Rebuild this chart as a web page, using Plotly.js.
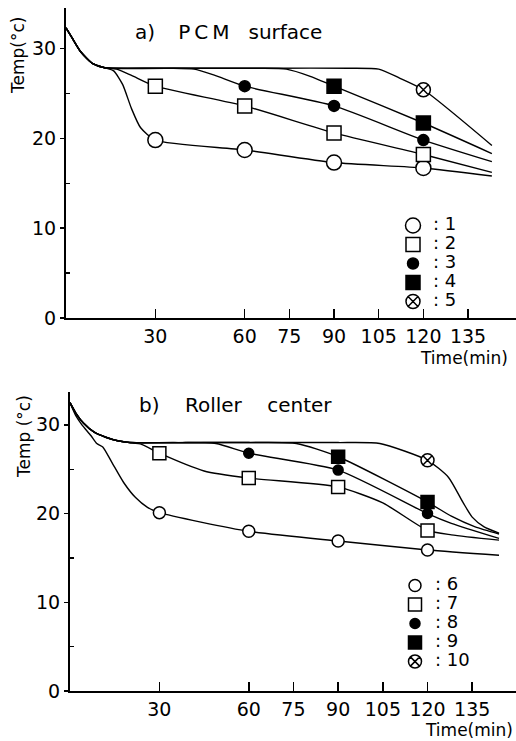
<!DOCTYPE html>
<html>
<head>
<meta charset="utf-8">
<script src="https://cdn.plot.ly/plotly-3.0.1.min.js"></script>
<style>
html,body{margin:0;padding:0;background:#fff;}
#chart{width:516px;height:741px;}
</style>
</head>
<body>
<div id="chart"></div>
<script>
// ---------- a) PCM surface : smooth curves ----------
const a1_t = [0, 2, 5, 9, 13, 16, 19, 22, 25, 30, 60, 90, 120, 143];
const a1_T = [32.3, 31.2, 29.6, 28.3, 27.85, 27.5, 26.0, 23.3, 21.2, 19.8, 18.7, 17.3, 16.7, 15.8];
const a2_t = [0, 2, 5, 9, 13, 17, 22, 30, 60, 90, 120, 143];
const a2_T = [32.3, 31.2, 29.6, 28.3, 27.85, 27.7, 27.0, 25.8, 23.6, 20.6, 18.2, 16.2];
const a3_t = [0, 2, 5, 9, 13, 25, 35, 43, 50, 60, 90, 120, 143];
const a3_T = [32.3, 31.2, 29.6, 28.3, 27.85, 27.8, 27.8, 27.7, 27.0, 25.8, 23.6, 19.8, 17.4];
const a4_t = [0, 2, 5, 9, 13, 30, 50, 65, 74, 82, 90, 120, 143];
const a4_T = [32.3, 31.2, 29.6, 28.3, 27.85, 27.8, 27.8, 27.8, 27.7, 26.9, 25.8, 21.7, 18.3];
const a5_t = [0, 2, 5, 9, 13, 40, 70, 95, 105, 112, 120, 143];
const a5_T = [32.3, 31.2, 29.6, 28.3, 27.85, 27.8, 27.8, 27.8, 27.7, 26.7, 25.4, 19.2];

// measured points (markers) a)
const ma1_t = [30, 60, 90, 120];  const ma1_T = [19.8, 18.7, 17.3, 16.7];
const ma2_t = [30, 60, 90, 120];  const ma2_T = [25.8, 23.6, 20.6, 18.2];
const ma3_t = [60, 90, 120];      const ma3_T = [25.8, 23.6, 19.8];
const ma4_t = [90, 120];          const ma4_T = [25.8, 21.7];
const ma5_t = [120];              const ma5_T = [25.4];

// ---------- b) Roller center ----------
const b6_t = [0, 2, 4, 7, 9, 11, 14, 18, 22, 26, 30, 60, 90, 120, 144];
const b6_T = [32.5, 31.0, 30.0, 28.8, 27.9, 27.5, 25.8, 23.5, 21.8, 20.7, 20.1, 18.0, 16.9, 15.9, 15.3];
const b7_t = [0, 2, 4.5, 8, 12, 16, 20, 24, 30, 45, 60, 90, 105, 120, 128, 144];
const b7_T = [32.5, 31.3, 30.2, 29.2, 28.6, 28.2, 28.0, 27.8, 26.8, 24.8, 24.0, 23.0, 21.2, 18.1, 17.6, 17.0];
const b8_t = [0, 2, 4.5, 8, 12, 16, 20, 35, 49, 60, 90, 120, 128, 144];
const b8_T = [32.5, 31.3, 30.2, 29.2, 28.6, 28.2, 28.0, 28.0, 27.9, 26.8, 24.9, 20.0, 18.9, 17.2];
const b9_t = [0, 2, 4.5, 8, 12, 16, 20, 40, 60, 76, 90, 120, 128, 136, 144];
const b9_T = [32.5, 31.3, 30.2, 29.2, 28.6, 28.2, 28.0, 28.0, 28.0, 27.9, 26.4, 21.3, 19.7, 18.5, 17.7];
const b10_t = [0, 2, 4.5, 8, 12, 16, 20, 45, 70, 90, 104, 120, 127, 132, 135, 139, 144];
const b10_T = [32.5, 31.3, 30.2, 29.2, 28.6, 28.2, 28.0, 28.0, 28.0, 28.0, 27.9, 26.0, 24.1, 21.2, 19.6, 18.5, 17.8];

// measured points (markers) b)
const mb6_t = [30, 60, 90, 120];  const mb6_T = [20.1, 18.0, 16.9, 15.9];
const mb7_t = [30, 60, 90, 120];  const mb7_T = [26.8, 24.0, 23.0, 18.1];
const mb8_t = [60, 90, 120];      const mb8_T = [26.8, 24.9, 20.0];
const mb9_t = [90, 120];          const mb9_T = [26.4, 21.3];
const mb10_t = [120];             const mb10_T = [26.0];

// tick labels / legend labels / texts
const xTicks = [30, 60, 75, 90, 105, 120, 135];
const yTicks = [0, 10, 20, 30];
const yMinor = [5, 15, 25];
const labelsA = ['1', '2', '3', '4', '5'];
const labelsB = ['6', '7', '8', '9', '10'];

const FONT = 'DejaVu Sans';
const NB = '\u00A0';

function lineTrace(t, T, xa, ya) {
  return {x: t, y: T, xaxis: xa, yaxis: ya, mode: 'lines', showlegend: false,
          hoverinfo: 'skip', line: {color: '#000', width: 1.4, shape: 'spline', smoothing: 0.6}};
}
function markTrace(t, T, xa, ya, sym, size, fill, label, leg) {
  return {x: t, y: T, xaxis: xa, yaxis: ya, mode: 'markers', legend: leg,
          name: '<span style="font-size:18px">:' + NB + label + '</span>',
          marker: {symbol: sym, size: size, color: fill, line: {color: '#000', width: 1.5}}};
}

const data = [
  lineTrace(a1_t, a1_T, 'x', 'y'), lineTrace(a2_t, a2_T, 'x', 'y'), lineTrace(a3_t, a3_T, 'x', 'y'),
  lineTrace(a4_t, a4_T, 'x', 'y'), lineTrace(a5_t, a5_T, 'x', 'y'),
  lineTrace(b6_t, b6_T, 'x2', 'y2'), lineTrace(b7_t, b7_T, 'x2', 'y2'), lineTrace(b8_t, b8_T, 'x2', 'y2'),
  lineTrace(b9_t, b9_T, 'x2', 'y2'), lineTrace(b10_t, b10_T, 'x2', 'y2'),
  markTrace(ma1_t, ma1_T, 'x', 'y', 'circle', 15, '#fff', labelsA[0], 'legend'),
  markTrace(ma2_t, ma2_T, 'x', 'y', 'square', 14, '#fff', labelsA[1], 'legend'),
  markTrace(ma3_t, ma3_T, 'x', 'y', 'circle', 11, '#000', labelsA[2], 'legend'),
  markTrace(ma4_t, ma4_T, 'x', 'y', 'square', 14, '#000', labelsA[3], 'legend'),
  markTrace(ma5_t, ma5_T, 'x', 'y', 'circle-x', 14, '#fff', labelsA[4], 'legend'),
  markTrace(mb6_t, mb6_T, 'x2', 'y2', 'circle', 12, '#fff', labelsB[0], 'legend2'),
  markTrace(mb7_t, mb7_T, 'x2', 'y2', 'square', 13, '#fff', labelsB[1], 'legend2'),
  markTrace(mb8_t, mb8_T, 'x2', 'y2', 'circle', 10, '#000', labelsB[2], 'legend2'),
  markTrace(mb9_t, mb9_T, 'x2', 'y2', 'square', 13, '#000', labelsB[3], 'legend2'),
  markTrace(mb10_t, mb10_T, 'x2', 'y2', 'circle-x', 13, '#fff', labelsB[4], 'legend2')
];

function xAxis(domain, range, anchor) {
  return {domain: domain, range: range, anchor: anchor, showline: true, linewidth: 2, linecolor: '#000',
          ticks: 'inside', ticklen: 9, tickwidth: 1.5, tickcolor: '#000', tickmode: 'array', tickvals: xTicks,
          tickfont: {family: FONT, size: 19, color: '#000'}, showgrid: false, zeroline: false, fixedrange: true};
}
function yAxis(domain, range, anchor) {
  return {domain: domain, range: range, anchor: anchor, showline: true, linewidth: 2, linecolor: '#000',
          ticks: 'outside', ticklen: 4, tickwidth: 1.5, tickcolor: '#000', tickmode: 'array', tickvals: yTicks,
          minor: {ticks: 'inside', ticklen: 4, tickwidth: 1.2, tickcolor: '#000', tickmode: 'array', tickvals: yMinor},
          tickfont: {family: FONT, size: 19, color: '#000'}, showgrid: false, zeroline: false, fixedrange: true};
}

const legendStyle = {bgcolor: 'rgba(0,0,0,0)', borderwidth: 0, font: {family: FONT, size: 12, color: '#000'},
                     xanchor: 'left', yanchor: 'top', tracegroupgap: 0, traceorder: 'normal'};

const layout = {
  width: 516, height: 741,
  margin: {l: 0, r: 0, t: 0, b: 0},
  paper_bgcolor: '#fff', plot_bgcolor: 'rgba(0,0,0,0)',
  font: {family: FONT, color: '#000'},
  showlegend: true,
  xaxis: xAxis([66 / 516, 1], [0, 151.1], 'y'),
  yaxis: yAxis([1 - 318 / 741, 1 - 8 / 741], [0, 34.5], 'x'),
  xaxis2: xAxis([70 / 516, 1], [0, 149.7], 'y2'),
  yaxis2: yAxis([1 - 691 / 741, 1 - 392 / 741], [0, 33.7], 'x2'),
  legend: Object.assign({x: 393 / 516, y: 1 - 211 / 741}, legendStyle),
  legend2: Object.assign({x: 395 / 516, y: 1 - 571 / 741}, legendStyle),
  annotations: [
    {text: 'a)' + NB + NB + NB + '\u2009P\u2009C\u2009M' + NB + NB + NB + 'surface', xref: 'paper', yref: 'paper',
     x: 133 / 516, y: 1 - 32 / 741, xanchor: 'left', yanchor: 'middle', showarrow: false,
     font: {family: FONT, size: 20, color: '#000'}},
    {text: 'b)' + NB + NB + NB + NB + 'Roller' + NB + NB + NB + NB + 'center', xref: 'paper', yref: 'paper',
     x: 137 / 516, y: 1 - 405 / 741, xanchor: 'left', yanchor: 'middle', showarrow: false,
     font: {family: FONT, size: 20, color: '#000'}},
    {text: 'Temp(°c)', xref: 'paper', yref: 'paper', x: 18 / 516, y: 1 - 56 / 741, textangle: -90,
     xanchor: 'center', yanchor: 'middle', showarrow: false, font: {family: FONT, size: 17, color: '#000'}},
    {text: 'Temp' + NB + '(°c)', xref: 'paper', yref: 'paper', x: 24 / 516, y: 1 - 437 / 741, textangle: -90,
     xanchor: 'center', yanchor: 'middle', showarrow: false, font: {family: FONT, size: 17, color: '#000'}},
    {text: 'Time(min)', xref: 'paper', yref: 'paper', x: 464 / 516, y: 1 - 358 / 741,
     xanchor: 'center', yanchor: 'middle', showarrow: false, font: {family: FONT, size: 17, color: '#000'}},
    {text: 'Time(min)', xref: 'paper', yref: 'paper', x: 469 / 516, y: 1 - 730 / 741,
     xanchor: 'center', yanchor: 'middle', showarrow: false, font: {family: FONT, size: 17, color: '#000'}}
  ]
};

Plotly.newPlot('chart', data, layout, {displayModeBar: false, staticPlot: true});
</script>
</body>
</html>
